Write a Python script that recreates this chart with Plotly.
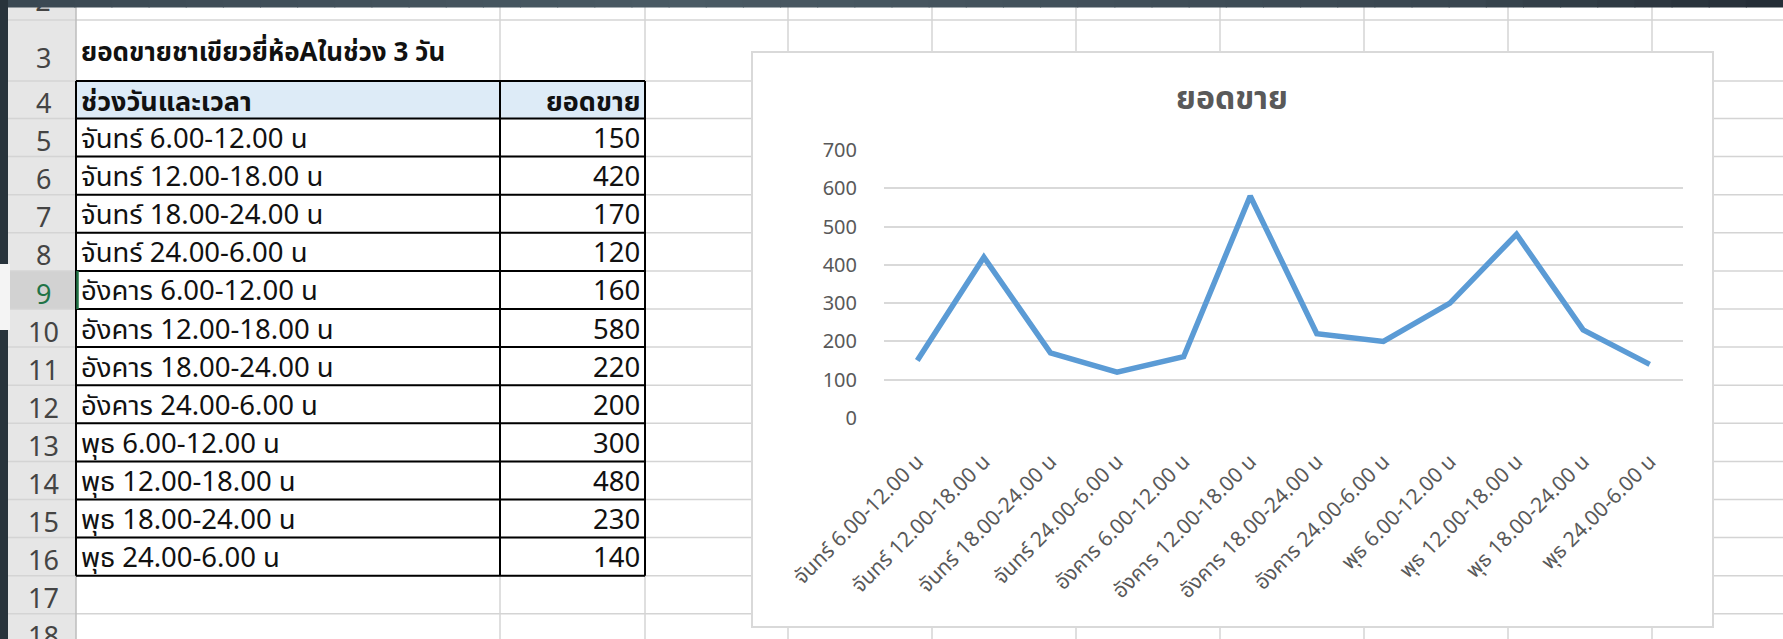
import plotly.graph_objects as go

W, H = 1783, 639

# ---------------- data ----------------
sheet_title = "ยอดขายชาเขียวยี่ห้อAในช่วง 3 วัน"
col_header_label = "ช่วงวันและเวลา"
col_header_value = "ยอดขาย"
periods = [
    "จันทร์ 6.00-12.00 น", "จันทร์ 12.00-18.00 น", "จันทร์ 18.00-24.00 น", "จันทร์ 24.00-6.00 น",
    "อังคาร 6.00-12.00 น", "อังคาร 12.00-18.00 น", "อังคาร 18.00-24.00 น", "อังคาร 24.00-6.00 น",
    "พุธ 6.00-12.00 น", "พุธ 12.00-18.00 น", "พุธ 18.00-24.00 น", "พุธ 24.00-6.00 น",
]
sales = [150, 420, 170, 120, 160, 580, 220, 200, 300, 480, 230, 140]
chart_title = "ยอดขาย"
y_ticks = [0, 100, 200, 300, 400, 500, 600, 700]
row_numbers = list(range(3, 19))

# ---------------- helpers (pixel -> paper) ----------------
def fx(x):
    return x / W

def fy(y):
    return 1 - y / H

THAI = "Tahoma, 'Noto Sans Thai', 'Noto Sans Thai UI', 'Noto Sans', sans-serif"
NUMF = "'Noto Sans', Arial, sans-serif"
shapes = []
annotations = []

def rect(x0, y0, x1, y1, fill, line=None, lw=0, layer="below"):
    shapes.append(dict(type="rect", xref="paper", yref="paper",
                       x0=fx(x0), x1=fx(x1), y0=fy(y1), y1=fy(y0),
                       fillcolor=fill, line=dict(color=line or fill, width=lw), layer=layer))

def hline(x0, x1, y, color, w):
    shapes.append(dict(type="line", xref="paper", yref="paper",
                       x0=fx(x0), x1=fx(x1), y0=fy(y), y1=fy(y),
                       line=dict(color=color, width=w), layer="below"))

def vline(x, y0, y1, color, w):
    shapes.append(dict(type="line", xref="paper", yref="paper",
                       x0=fx(x), x1=fx(x), y0=fy(y0), y1=fy(y1),
                       line=dict(color=color, width=w), layer="below"))

def text(x, y, s, size, color="#111111", xanchor="left", bold=False, family=THAI):
    annotations.append(dict(xref="paper", yref="paper", x=fx(x), y=fy(y), text=("<b>%s</b>" % s) if bold else s,
                            showarrow=False, xanchor=xanchor, yanchor="middle", borderpad=0,
                            font=dict(size=size, color=color, family=family)))

# ---------------- spreadsheet ----------------
ROW_HDR_L, ROW_HDR_R = 8, 76
col_lines = [500, 645, 788, 932, 1076, 1220, 1364, 1508, 1652]
row_bounds = [20, 81] + [118.5 + 38.1 * k for k in range(15)]  # bottoms of rows 2..18

rect(0, 0, W, H, "#ffffff")
rect(ROW_HDR_L, 0, ROW_HDR_R, H, "#e6e6e6")
r9_top, r9_bot = row_bounds[6], row_bounds[7]
rect(ROW_HDR_L, r9_top, ROW_HDR_R, r9_bot, "#d2d2d2")

for yb in row_bounds:
    hline(ROW_HDR_L, W, yb, "#d4d4d4", 1.5)
for xc in col_lines:
    vline(xc, 0, H, "#d4d4d4", 1.5)
vline(ROW_HDR_R, 0, H, "#bcbcbc", 1.5)

rect(76, row_bounds[1], 645, row_bounds[2], "#ddebf7")
TOP, BOT = row_bounds[1], row_bounds[14]
for k in range(1, 15):
    hline(76, 645, row_bounds[k], "#000000", 2)
vline(76, TOP, BOT, "#000000", 2)
vline(500, TOP, BOT, "#000000", 2)
vline(645, TOP, BOT, "#000000", 2)
vline(77.5, r9_top, r9_bot, "#217346", 2.5)

# row numbers (bottom aligned in their row)
for i, r in enumerate(row_numbers):
    bot = row_bounds[i + 1]
    col = "#217346" if r == 9 else "#444444"
    cy = 58 if r == 3 else bot - 16
    text(43, cy, str(r), 27, color=col, xanchor="center", family=NUMF)

text(80, 53, sheet_title, 26, bold=True)
hdr_c = (row_bounds[1] + row_bounds[2]) / 2 + 3
text(80, hdr_c, col_header_label, 27, bold=True)
text(641, hdr_c, col_header_value, 27, bold=True, xanchor="right")

for i, (p, v) in enumerate(zip(periods, sales)):
    top, bot = row_bounds[2 + i], row_bounds[3 + i]
    cy = (top + bot) / 2 + 2
    text(80, cy, p, 27.5)
    text(641, cy, str(v), 27.5, xanchor="right")

stops = [(0, (0x3a, 0x48, 0x52)), (700, (0x4a, 0x5a, 0x64)), (1450, (0x3a, 0x47, 0x51)), (W, (0x24, 0x2d, 0x35))]
def band_color(x):
    for (xa, ca), (xb, cb) in zip(stops[:-1], stops[1:]):
        if xa <= x <= xb:
            t = (x - xa) / (xb - xa)
            c = [round(a + (b - a) * t) for a, b in zip(ca, cb)]
            return "rgb(%d,%d,%d)" % tuple(c)
    return "rgb(36,45,53)"
n = 48
for k in range(n):
    x0 = W * k / n
    x1 = W * (k + 1) / n + 1
    rect(x0, 0, x1, 7.5, band_color((x0 + x1) / 2), layer="above")
rect(0, 0, 8, H, "#28333b", layer="above")
rect(0, 264, 10, 330, "#f4f4f4", layer="above")

# ---------------- chart box ----------------
CH_L, CH_T, CH_R, CH_B = 752, 52, 1713, 627
rect(CH_L, CH_T, CH_R, CH_B, "#ffffff", line="#d9d9d9", lw=2)

PL, PR, PT, PB = 884, 1683, 150, 418

fig = go.Figure()
fig.add_trace(go.Scatter(
    x=periods, y=sales, mode="lines",
    line=dict(color="#5b9bd5", width=5.5, shape="linear"),
    hoverinfo="skip", showlegend=False, xaxis="x", yaxis="y",
))
fig.add_trace(go.Scatter(
    x=[43], y=[4], mode="text", text=["2"], textposition="middle center",
    textfont=dict(size=27, color="#444444", family=NUMF),
    hoverinfo="skip", showlegend=False, xaxis="x2", yaxis="y2", cliponaxis=True,
))

annotations.append(dict(xref="paper", yref="paper", x=fx(1232), y=fy(99), text="<b>%s</b>" % chart_title,
                        showarrow=False, xanchor="center", yanchor="middle",
                        font=dict(size=32, color="#595959", family=THAI)))

fig.update_layout(
    width=W, height=H, margin=dict(l=0, r=0, t=0, b=0, pad=0, autoexpand=False),
    paper_bgcolor="#ffffff", plot_bgcolor="rgba(0,0,0,0)",
    shapes=shapes, annotations=annotations, showlegend=False,
    xaxis=dict(domain=[fx(PL), fx(PR)], range=[-0.5, len(periods) - 0.5], type="category",
               tickangle=-45, tickfont=dict(size=21, color="#595959", family=THAI),
               showgrid=False, zeroline=False, showline=False, automargin=False,
               ticks="outside", ticklen=22, tickcolor="rgba(0,0,0,0)", anchor="y"),
    yaxis=dict(domain=[fy(PB), fy(PT)], range=[0, 700], tickvals=y_ticks,
               tickfont=dict(size=20, color="#595959", family=NUMF),
               showgrid=True, gridcolor="#d9d9d9", gridwidth=2, zeroline=False, showline=False,
               automargin=False,
               ticks="outside", ticklen=22, tickcolor="rgba(0,0,0,0)", anchor="x"),
    xaxis2=dict(domain=[0, 1], range=[0, W], visible=False, anchor="y2", automargin=False),
    yaxis2=dict(domain=[0, 1], range=[H, 0], visible=False, anchor="x2", automargin=False),
)

fig.write_html("out.html", config={"displayModeBar": False},
               post_script="document.body.style.margin='0';document.body.style.overflow='hidden';")
